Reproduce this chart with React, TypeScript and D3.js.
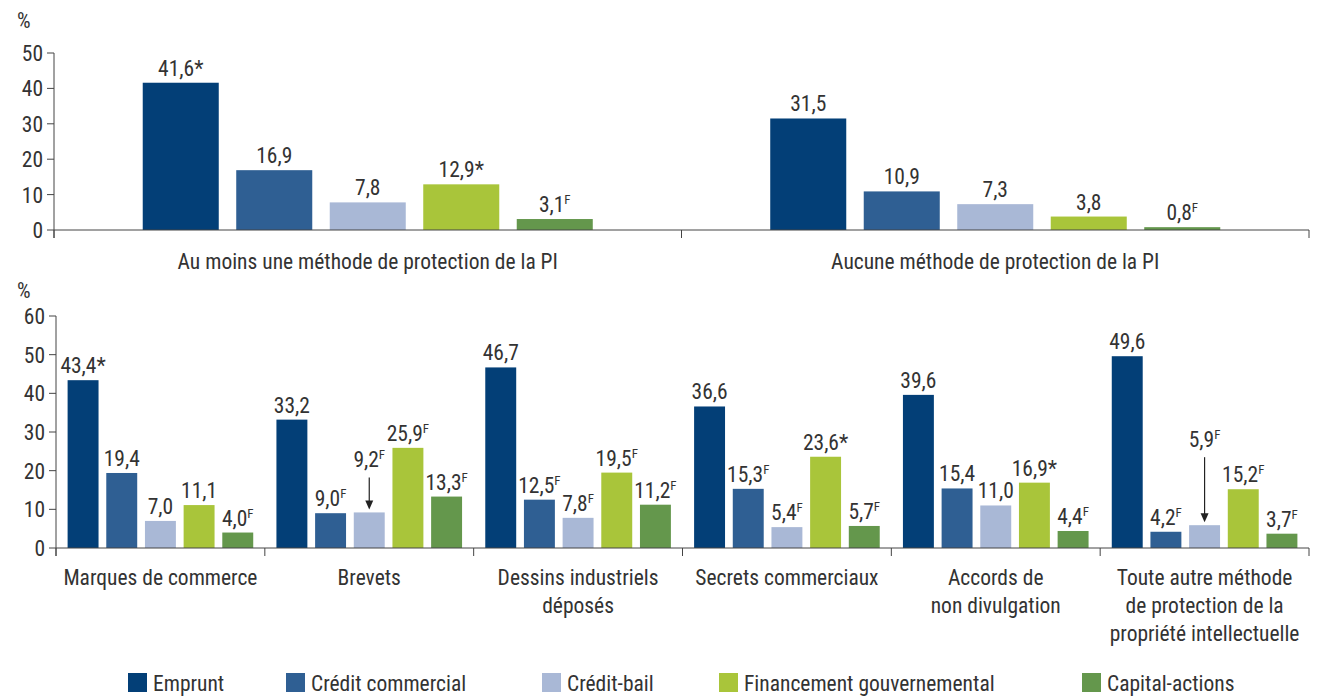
import React from "react";
import * as d3 from "d3";

// ---------- Data ----------
const seriesNames = ["Emprunt", "Crédit commercial", "Crédit-bail", "Financement gouvernemental", "Capital-actions"];
const seriesColors = ["#033F77", "#2F5F93", "#A9B8D6", "#A9C53A", "#64974C"];

const topCategories = ["Au moins une méthode de protection de la PI", "Aucune méthode de protection de la PI"];
// values per category, series order as seriesNames
const topValues = [
  [41.6, 16.9, 7.8, 12.9, 3.1],
  [31.5, 10.9, 7.3, 3.8, 0.8],
];
const topFlags = [
  ["*", "", "", "*", "F"],
  ["", "", "", "", "F"],
];
const topTicks = [0, 10, 20, 30, 40, 50];

const bottomCategories = [
  ["Marques de commerce"],
  ["Brevets"],
  ["Dessins industriels", "déposés"],
  ["Secrets commerciaux"],
  ["Accords de", "non divulgation"],
  ["Toute autre méthode", "de protection de la", "propriété intellectuelle"],
];
const bottomValues = [
  [43.4, 19.4, 7.0, 11.1, 4.0],
  [33.2, 9.0, 9.2, 25.9, 13.3],
  [46.7, 12.5, 7.8, 19.5, 11.2],
  [36.6, 15.3, 5.4, 23.6, 5.7],
  [39.6, 15.4, 11.0, 16.9, 4.4],
  [49.6, 4.2, 5.9, 15.2, 3.7],
];
const bottomFlags = [
  ["*", "", "", "", "F"],
  ["", "F", "F", "F", "F"],
  ["", "F", "F", "F", "F"],
  ["", "F", "F", "*", "F"],
  ["", "", "", "*", "F"],
  ["", "F", "F", "F", "F"],
];
const bottomTicks = [0, 10, 20, 30, 40, 50, 60];

// ---------- Layout constants ----------
const W = 1317;
const H = 696;
const FONT = "'Roboto Condensed', 'Liberation Sans Narrow', 'DejaVu Sans Condensed', sans-serif";
const FS = 21.5;
const TEXT = "#333";
const LINE = "#444";
// arrow-labelled bars: [group index, series index] -> label lift above bar top (px)
const arrowLifts: { g: number; s: number; lift: number }[] = [
  { g: 1, s: 2, lift: 45 },
  { g: 5, s: 2, lift: 78 },
];
const legendX = [128, 286, 542, 719, 1082];

const fmt = (v: number) => d3.format(".1f")(v).replace(".", ",");

function T(props: { x: number; y: number; anchor?: string; size?: number; children: React.ReactNode }) {
  const { x, y, anchor = "start", size = FS, children } = props;
  return (
    <text x={x} y={y} textAnchor={anchor} fontSize={size} fill={TEXT} fontFamily={FONT}>
      {children}
    </text>
  );
}

function ValueLabel({ x, y, v, flag }: { x: number; y: number; v: number; flag: string }) {
  return (
    <T x={x} y={y} anchor="middle">
      {fmt(v)}
      {flag === "F" ? (
        <tspan fontSize={13} dy={-8}>F</tspan>
      ) : flag === "*" ? (
        <tspan>*</tspan>
      ) : null}
    </T>
  );
}

function Panel(props: {
  x0: number; x1: number; yTop: number; yZero: number; maxV: number; ticks: number[];
  cats: string[][]; values: number[][]; flags: string[][];
  pIn: number; pOut: number; labelY: number; lineH: number; pctY: number; arrows: boolean;
}) {
  const { x0, x1, yTop, yZero, maxV, ticks, cats, values, flags, pIn, pOut, labelY, lineH, pctY, arrows } = props;
  const y = d3.scaleLinear().domain([0, maxV]).range([yZero, yTop]);
  const gx = d3.scaleBand<number>().domain(d3.range(cats.length)).range([x0, x1]).padding(0);
  const ix = d3.scaleBand<number>().domain(d3.range(seriesNames.length)).range([0, gx.bandwidth()])
    .paddingInner(pIn).paddingOuter(pOut);
  const bounds = d3.range(cats.length + 1).map((i) => x0 + i * gx.step());
  return (
    <g>
      <T x={17} y={pctY}>%</T>
      {/* y axis */}
      <line x1={x0} x2={x0} y1={y(maxV)} y2={yZero + 8} stroke={LINE} strokeWidth={1} />
      {ticks.map((t) => (
        <g key={t}>
          <line x1={x0 - 7} x2={x0} y1={y(t)} y2={y(t)} stroke={LINE} />
          <T x={x0 - 11} y={y(t) + 8} anchor="end">{t}</T>
        </g>
      ))}
      {/* bars */}
      {values.map((row, gi) =>
        row.map((v, si) => {
          const bx = (gx(gi) as number) + (ix(si) as number);
          const bw = ix.bandwidth();
          const arrow = arrows ? arrowLifts.find((a) => a.g === gi && a.s === si) : undefined;
          const cx = bx + bw / 2;
          return (
            <g key={gi + "-" + si}>
              <rect x={bx} y={y(v)} width={bw} height={yZero - y(v)} fill={seriesColors[si]} />
              {arrow ? (
                <g>
                  <ValueLabel x={cx} y={y(v) - arrow.lift} v={v} flag={flags[gi][si]} />
                  <line x1={cx} x2={cx} y1={y(v) - arrow.lift + 10} y2={y(v) - 8} stroke="#222" strokeWidth={1.2} />
                  <path d={`M${cx - 4},${y(v) - 12} L${cx + 4},${y(v) - 12} L${cx},${y(v) - 3} Z`} fill="#222" />
                </g>
              ) : (
                <ValueLabel x={cx} y={y(v) - 7} v={v} flag={flags[gi][si]} />
              )}
            </g>
          );
        })
      )}
      {/* x axis */}
      <line x1={x0} x2={x1} y1={yZero} y2={yZero} stroke={LINE} />
      {bounds.map((b, i) => (
        <line key={i} x1={b} x2={b} y1={yZero} y2={yZero + 8} stroke={LINE} />
      ))}
      {cats.map((lines, gi) =>
        lines.map((l, li) => (
          <T key={gi + "-" + li} x={(gx(gi) as number) + gx.bandwidth() / 2} y={labelY + li * lineH} anchor="middle">{l}</T>
        ))
      )}
    </g>
  );
}

export default function App() {
  return (
    <svg width={W} height={H} style={{ position: "absolute", left: 0, top: 0, background: "#fff" }}>
      <Panel x0={54} x1={1309} yTop={53} yZero={230} maxV={50} ticks={topTicks}
        cats={topCategories.map((c) => [c])} values={topValues} flags={topFlags}
        pIn={0.187} pOut={0.949} labelY={269} lineH={28} pctY={28} arrows={false} />
      <Panel x0={56} x1={1309} yTop={316} yZero={548} maxV={60} ticks={bottomTicks}
        cats={bottomCategories} values={bottomValues} flags={bottomFlags}
        pIn={0.2} pOut={0.3} labelY={585} lineH={28} pctY={298} arrows={true} />
      {/* legend */}
      {seriesNames.map((n, i) => (
        <g key={n}>
          <rect x={legendX[i]} y={673} width={19} height={19} fill={seriesColors[i]} />
          <T x={legendX[i] + 25} y={691}>{n}</T>
        </g>
      ))}
    </svg>
  );
}
